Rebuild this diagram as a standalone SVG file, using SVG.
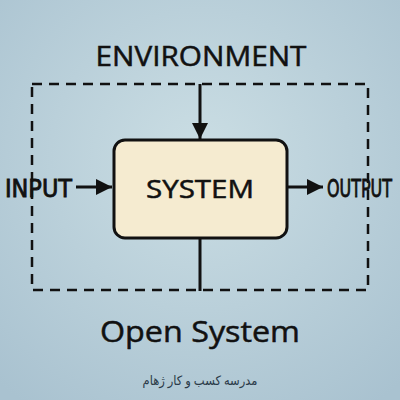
<svg xmlns="http://www.w3.org/2000/svg" width="400" height="400" viewBox="0 0 400 400">
  <defs>
    <radialGradient id="bg" cx="50%" cy="40%" r="75%">
      <stop offset="0" stop-color="#cbdee4"/>
      <stop offset="1" stop-color="#a9c2d0"/>
    </radialGradient>
    <marker id="ah" viewBox="0 0 10 10" refX="10" refY="5" markerWidth="5.5" markerHeight="6" markerUnits="strokeWidth" orient="auto">
      <path d="M0,0 L10,5 L0,10 Z" fill="#111"/>
    </marker>
    <style>
      .lbl { font-family: "Open Sans", "Noto Sans", sans-serif; font-weight: 400; fill: #111; stroke: #111; stroke-width: 0.5; }
      .cond { font-family: "DejaVu Sans Condensed", "Roboto", sans-serif; font-weight: 400; fill: #111; stroke: #111; stroke-width: 0.8; }
      .ln { stroke: #111; stroke-width: 3; fill: none; }
    </style>
  </defs>
  <rect width="400" height="400" fill="url(#bg)"/>
  <text class="lbl" x="201" y="66" font-size="28" stroke-width="0.8" text-anchor="middle" textLength="211" lengthAdjust="spacingAndGlyphs">ENVIRONMENT</text>
  <rect x="32" y="84" width="336" height="206" fill="none" stroke="#111" stroke-width="2.5" stroke-dasharray="10,7"/>
  <g id="connectors">
    <line class="ln" x1="200" y1="84" x2="200" y2="139" marker-end="url(#ah)"/>
    <line class="ln" x1="76" y1="187" x2="112" y2="187" marker-end="url(#ah)"/>
    <line class="ln" x1="288" y1="187" x2="323" y2="187" marker-end="url(#ah)"/>
    <line class="ln" x1="200" y1="238" x2="200" y2="291"/>
  </g>
  <g id="system">
    <rect x="114" y="140" width="173" height="98" rx="11" fill="#f5ebd0" stroke="#111" stroke-width="3"/>
    <text class="lbl" x="200" y="198" font-size="25" stroke-width="0.6" text-anchor="middle" textLength="108" lengthAdjust="spacingAndGlyphs">SYSTEM</text>
  </g>
  <g id="input">
    <text class="cond" x="5" y="197" font-size="24" textLength="67" lengthAdjust="spacingAndGlyphs">INPUT</text>
  </g>
  <g id="output">
    <text class="cond" x="327" y="197" font-size="24" textLength="65" lengthAdjust="spacingAndGlyphs">OUTPUT</text>
  </g>
  <text class="lbl" x="200" y="342" font-size="30" stroke-width="0.3" text-anchor="middle" textLength="200" lengthAdjust="spacingAndGlyphs">Open System</text>
  <text x="200" y="385" font-size="13" text-anchor="middle" fill="#2a3a48" font-family="'Noto Sans', 'DejaVu Sans', sans-serif" direction="rtl" textLength="115" lengthAdjust="spacingAndGlyphs">مدرسه کسب و کار ژهام</text>
</svg>
